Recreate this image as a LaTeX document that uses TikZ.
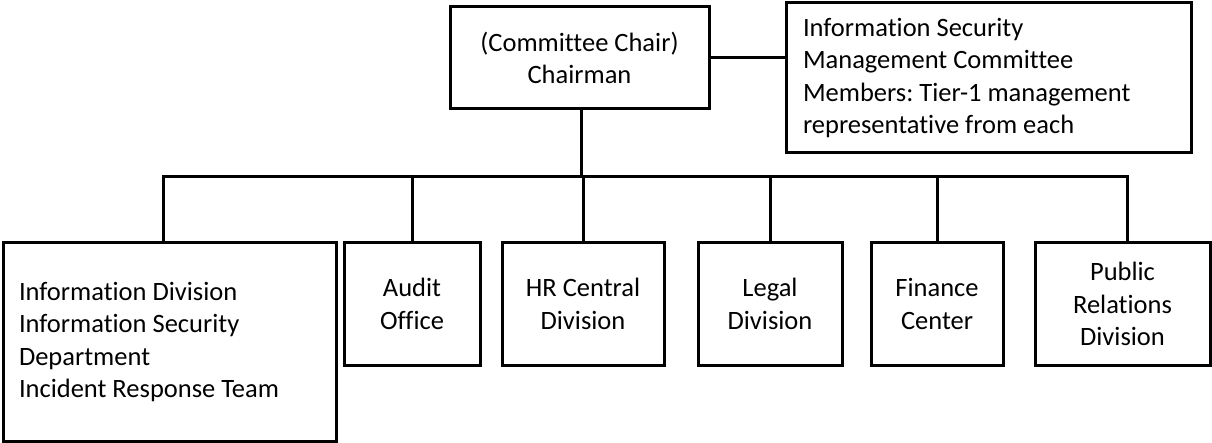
\documentclass[tikz,border=0pt]{standalone}
\usepackage{fontspec}
\setmainfont{Carlito}[Ligatures=CommonOff]
\newcommand\boxfont{\fontsize{26.5}{32.5}\selectfont\frenchspacing}
\newcommand\fixspace{\spaceskip=0.226em\relax\xspaceskip=0.226em\relax}
\begin{document}
\begin{tikzpicture}[x=1pt,y=-1pt,
  box/.style={draw=black,line width=3pt,inner sep=0pt,align=center,font=\boxfont},
  lbox/.style={box,align=left,execute at begin node=\fixspace},
  link/.style={draw=black,line width=3pt}]
\useasboundingbox (0,0) rectangle (1212,443);
\node[box,minimum width=259,minimum height=102] (chair) at (579.5,58) {(Committee Chair)\\Chairman};
\node[lbox,minimum width=405,minimum height=150,text width=371] (comm) at (988.5,78)
  {Information Security\\Management Committee\\Members: Tier-1 management\\representative from each};
\node[lbox,minimum width=333,minimum height=198,text width=301] (info) at (169.5,342)
  {Information Division\\Information Security\\Department\\Incident Response Team};
\node[box,minimum width=136,minimum height=122] (audit) at (412,304) {Audit\\Office};
\node[box,minimum width=162,minimum height=122] (hr) at (583,304) {HR Central\\Division};
\node[box,minimum width=144,minimum height=122] (legal) at (770,304) {Legal\\Division};
\node[box,minimum width=132,minimum height=122] (fin) at (937,304) {Finance\\Center};
\node[box,minimum width=175,minimum height=122] (pr) at (1122.5,304) {Public\\Relations\\Division};
\coordinate (bus) at (581,177);
\draw[link] (chair.east) -- (comm.west |- chair.east);
\draw[link] (chair.south -| bus) -- (bus);
\draw[link] ([xshift=-6.5pt]info.north) |- (bus) -| ([xshift=4.5pt]pr.north);
\draw[link] (audit.north) -- (audit.north |- bus);
\draw[link] (hr.north) -- (hr.north |- bus);
\draw[link] (legal.north) -- (legal.north |- bus);
\draw[link] (fin.north) -- (fin.north |- bus);
\end{tikzpicture}
\end{document}
